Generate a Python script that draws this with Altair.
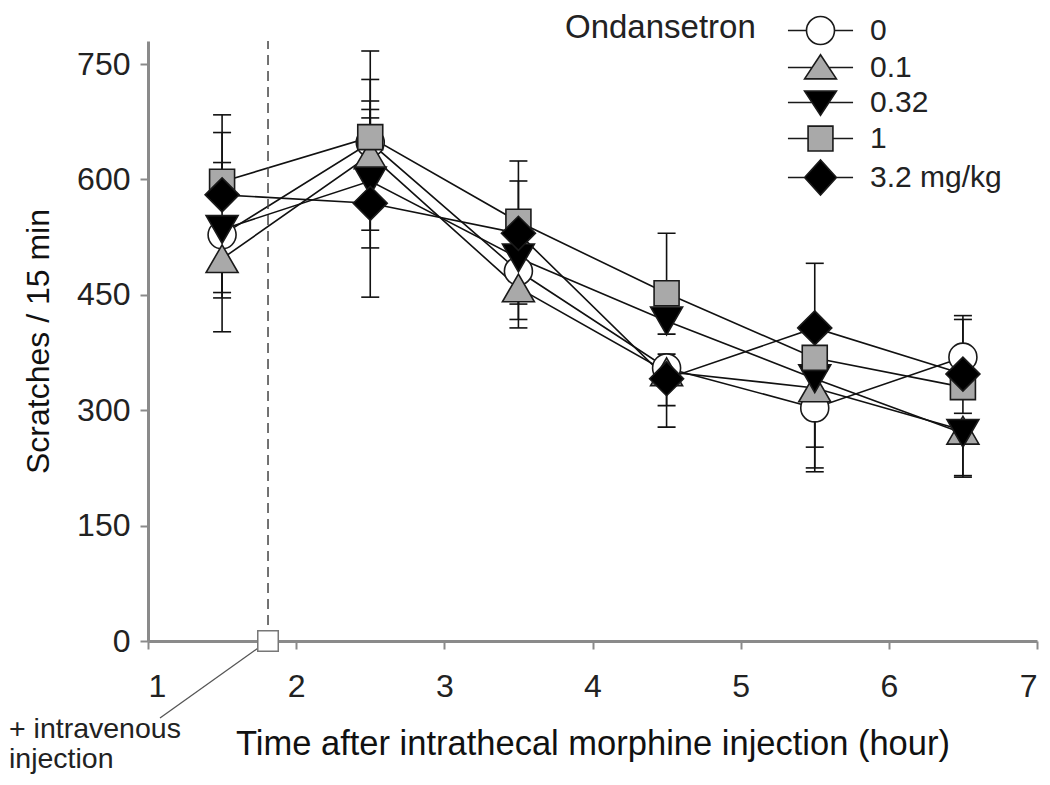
import altair as alt
import pandas as pd

# ---------------- data ----------------
times = [1.5, 2.5, 3.5, 4.5, 5.5, 6.5]
series = ["0", "0.1", "0.32", "1", "3.2 mg/kg"]

mean_0 = [528, 648, 481, 355, 303, 369]
mean_01 = [497, 632, 459, 350, 329, 274]
mean_032 = [535, 598, 498, 416, 341, 270]
mean_1 = [597, 655, 545, 452, 368, 330]
mean_32 = [580, 569, 530, 341, 407, 347]

upper_0 = [None, 730, None, 373, None, 423]
upper_01 = [None, 702, None, None, None, None]
upper_032 = [622, 691, None, None, None, None]
upper_1 = [684, 767, 624, 530, None, None]
upper_32 = [661, 680, 598, None, 491, 418]

lower_0 = [453, None, 438, None, 252, None]
lower_01 = [402, 534, 407, 306, 220, 213]
lower_032 = [446, 511, 418, 399, 225, 215]
lower_1 = [None, None, None, None, 299, 296]
lower_32 = [None, 447, None, 278, None, None]

x_ticks = [1, 2, 3, 4, 5, 6, 7]
y_ticks = [0, 150, 300, 450, 600, 750]
iv_time = [1.81]

# ---------------- styles ----------------
shapes = ["circle", "triangle-up", "triangle-down", "square", "diamond"]
sizes = [784, 1024, 1024, 625, 1156]
fills = ["#ffffff", "#a9a9a9", "#000000", "#a9a9a9", "#000000"]

# legend symbols: marker with a short line through it (unit = 17.5 px)
legend_paths = [
    "M0.8,0A0.8,0.8,0,1,1,-0.8,0A0.8,0.8,0,1,1,0.8,0Z M-1.86,0H-0.8 M0.8,0H1.86",
    "M0,-0.73L0.91,0.65L-0.91,0.65Z M-1.86,0H-0.48 M0.48,0H1.86",
    "M0,0.73L0.91,-0.65L-0.91,-0.65Z M-1.86,0H-0.48 M0.48,0H1.86",
    "M-0.71,-0.71H0.71V0.71H-0.71Z M-1.86,0H-0.71 M0.71,0H1.86",
    "M-0.91,0L0,-1L0.91,0L0,1Z M-1.86,0H-0.91 M0.91,0H1.86",
]

means = [mean_0, mean_01, mean_032, mean_1, mean_32]
uppers = [upper_0, upper_01, upper_032, upper_1, upper_32]
lowers = [lower_0, lower_01, lower_032, lower_1, lower_32]

rows, err_rows = [], []
for i, (s, m, u, l) in enumerate(zip(series, means, uppers, lowers)):
    for t, mv, uv, lv in zip(times, m, u, l):
        rows.append({"series": s, "time": t, "mean": mv,
                     "shp": shapes[i], "fil": fills[i], "sz": sizes[i]})
        for cap in (uv, lv):
            if cap is not None:
                err_rows.append({"series": s, "time": t, "mean": mv, "cap": cap})
df = pd.DataFrame(rows)
err_df = pd.DataFrame(err_rows)
inj_df = pd.DataFrame({"time": iv_time, "base": [0], "top": [780]})

FONT = "Liberation Sans"
INK = "#111111"

x_enc = alt.X(
    "time:Q",
    scale=alt.Scale(domain=[1, 7], nice=False, zero=False),
    axis=alt.Axis(
        values=x_ticks,
        title="Time after intrathecal morphine injection (hour)",
        format="d",
        labelPadding=22,
        titlePadding=25,
        tickSize=8,
        titleFontSize=34.5,
    ),
)
y_enc = alt.Y(
    "mean:Q",
    scale=alt.Scale(domain=[0, 780], nice=False),
    axis=alt.Axis(
        values=y_ticks,
        title="Scratches / 15 min",
        labelPadding=10,
        titlePadding=21,
        tickSize=8,
        titleFontSize=32,
    ),
)

base = alt.Chart(df)

lines = base.mark_line(color=INK, strokeWidth=1.6).encode(
    x=x_enc, y=y_enc, detail="series:N"
)

err_rule = alt.Chart(err_df).mark_rule(color=INK, strokeWidth=1.6).encode(
    x="time:Q", y="mean:Q", y2="cap:Q"
)
err_cap = alt.Chart(err_df).mark_tick(
    orient="horizontal", size=18, thickness=1.6, color=INK, opacity=1
).encode(x="time:Q", y="cap:Q")

points = base.mark_point(
    filled=True, stroke="#1a1a1a", strokeWidth=1.6, opacity=1
).encode(
    x="time:Q",
    y="mean:Q",
    shape=alt.Shape("shp:N", scale=None),
    fill=alt.Fill("fil:N", scale=None),
    size=alt.Size("sz:Q", scale=None),
)

leg = alt.Legend(
    title="Ondansetron",
    orient="none",
    legendX=417,
    legendY=-29,
    titleOrient="left",
    titleAnchor="start",
    titleBaseline="top",
    titleFont=FONT,
    titleFontSize=33,
    titleFontWeight="normal",
    titleColor="#222222",
    titleLimit=400,
    titlePadding=46,
    labelFont=FONT,
    labelFontSize=30,
    labelColor="#222222",
    labelOffset=31,
    labelLimit=300,
    symbolSize=1225,
    symbolStrokeWidth=1.6,
    symbolStrokeColor="#1a1a1a",
    symbolOpacity=1,
    rowPadding=1,
    padding=0,
)
legend_layer = base.transform_filter("false").mark_point(
    filled=True, stroke="#1a1a1a", strokeWidth=1.6, opacity=1
).encode(
    x="time:Q",
    y="mean:Q",
    shape=alt.Shape("series:N", scale=alt.Scale(domain=series, range=legend_paths), legend=leg),
    fill=alt.Fill("series:N", scale=alt.Scale(domain=series, range=fills), legend=leg),
)

inj_base = alt.Chart(inj_df)
dashed = inj_base.mark_rule(color="#444444", strokeWidth=1.5, strokeDash=[10, 6]).encode(
    x="time:Q", y="base:Q", y2="top:Q"
)
leader = inj_base.mark_rule(color="#555555", strokeWidth=1.3).encode(
    x="time:Q", y="base:Q", x2=alt.value(12), y2=alt.value(677)
)
inj_marker = inj_base.mark_point(
    shape="square", size=420, filled=True, fill="#ffffff", stroke="#777777", strokeWidth=1.5, opacity=1
).encode(x="time:Q", y="base:Q")
inj_text = inj_base.mark_text(
    align="left", baseline="alphabetic", font=FONT, fontSize=28.5, lineHeight=30, color="#222222"
).encode(x=alt.value(-139), y=alt.value(697), text=alt.value(["+ intravenous", "injection"]))

chart = (
    alt.layer(lines, err_rule, err_cap, dashed, leader, inj_marker, points, legend_layer, inj_text)
    .properties(
        width=889,
        height=600,
        autosize=alt.AutoSizeParams(type="none"),
        padding={"left": 140, "top": 33, "right": 5, "bottom": 136},
    )
    .configure_view(stroke=None)
    .configure_axis(
        grid=False,
        domainColor="#8a8a8a",
        domainWidth=3,
        tickColor="#8a8a8a",
        tickWidth=2,
        labelFont=FONT,
        labelFontSize=32,
        labelColor="#222222",
        titleFont=FONT,
        titleFontWeight="normal",
        titleColor="#111111",
    )
)

chart.save("out.html", embed_options={"renderer": "svg", "actions": False})
